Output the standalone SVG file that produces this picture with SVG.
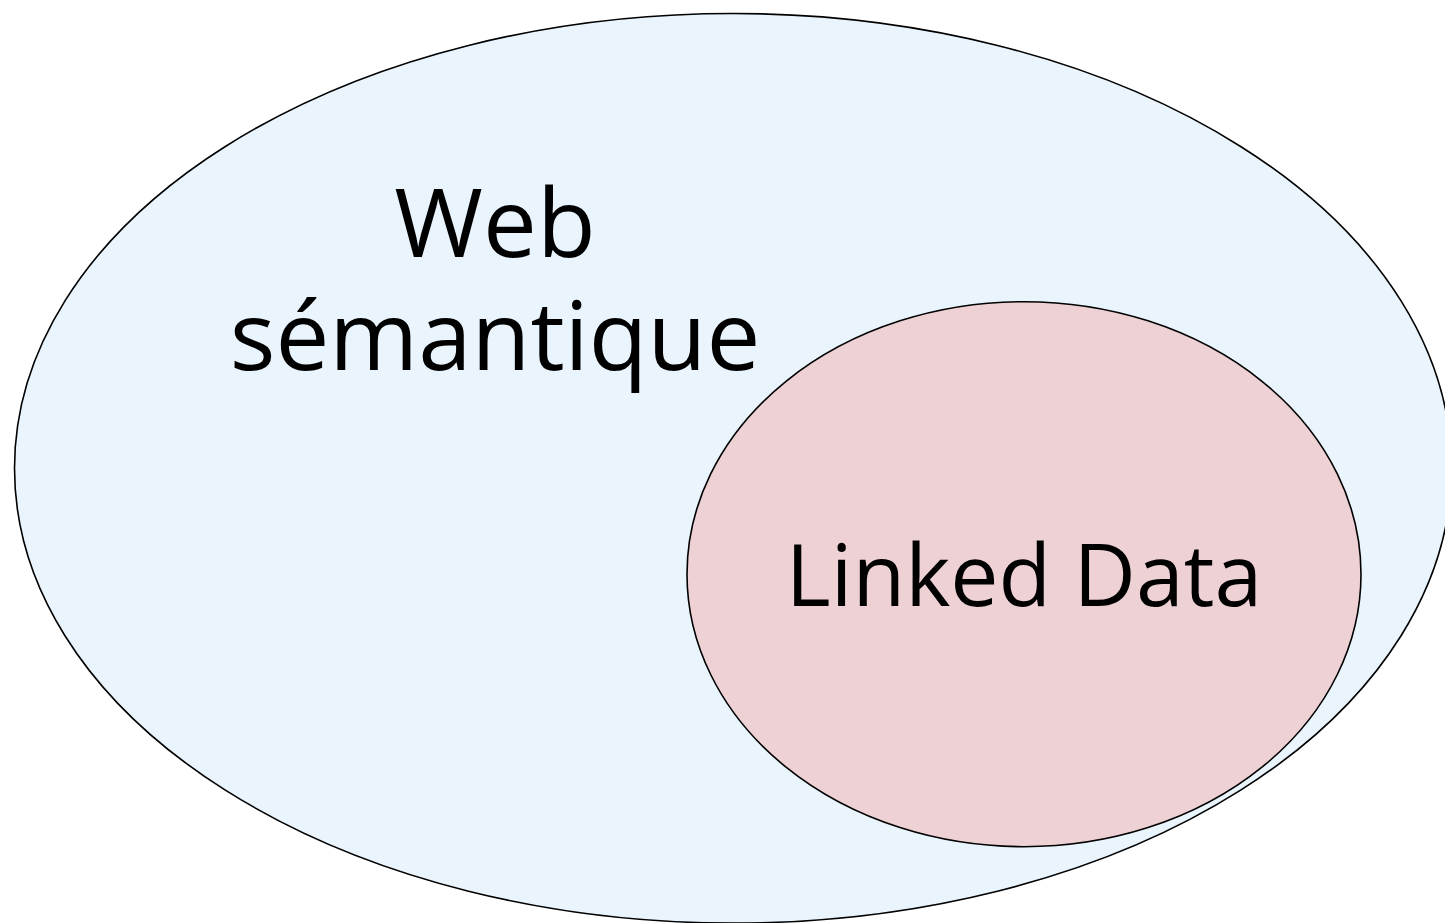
<svg xmlns="http://www.w3.org/2000/svg" width="1445" height="923" viewBox="0 0 1445 923">
<style>
.shape{stroke:#000;stroke-width:1.6}
.lbl{font-family:"Open Sans","Noto Sans","Liberation Sans",sans-serif;fill:#000;text-anchor:middle}
</style>
<rect width="1445" height="923" fill="#fff"/>
<g id="web-semantique">
<ellipse class="shape" cx="733" cy="468.3" rx="718.5" ry="454.8" fill="#e9f4fc"/>
<text class="lbl" font-size="96"><tspan x="495" y="257">Web</tspan><tspan x="495" y="370">sémantique</tspan></text>
</g>
<g id="linked-data">
<ellipse class="shape" cx="1024" cy="574.2" rx="337" ry="272.5" fill="#eed1d4"/>
<text class="lbl" x="1024" y="606" font-size="86">Linked Data</text>
</g>
<g id="connectors"></g>
</svg>
